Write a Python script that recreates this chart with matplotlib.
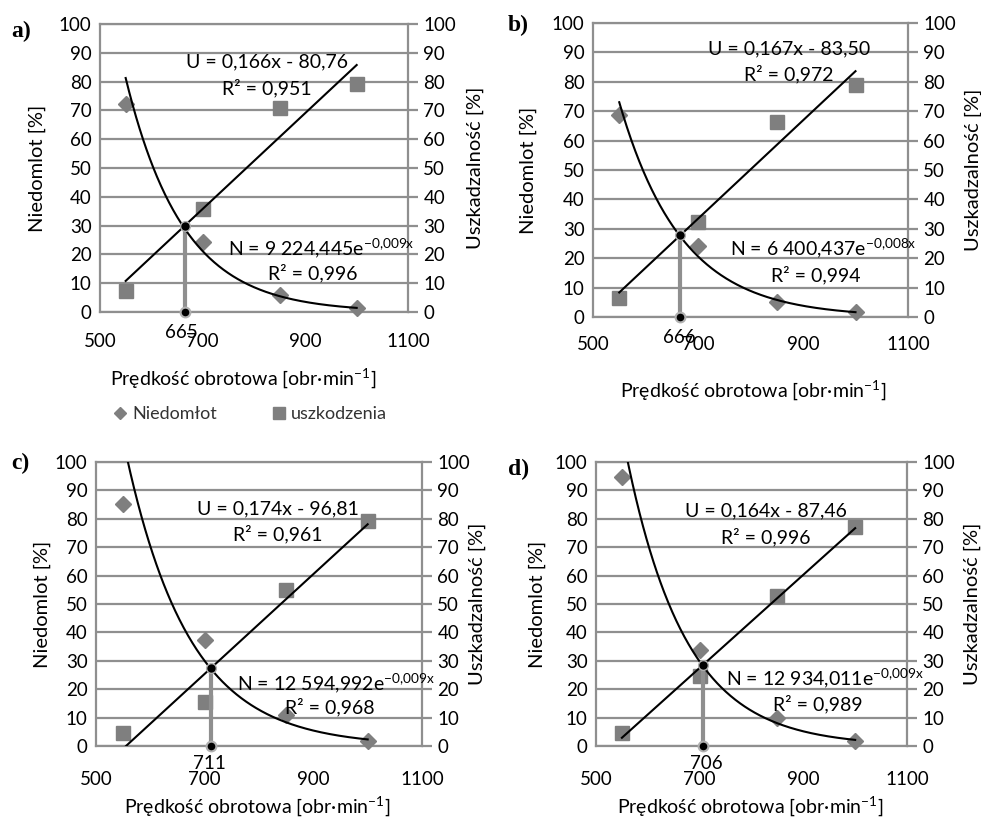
import numpy as np
import matplotlib
matplotlib.use('Agg')
import matplotlib.pyplot as plt
from matplotlib.lines import Line2D

plt.rcParams['font.family'] = ['Lato', 'DejaVu Sans']
plt.rcParams['mathtext.fontset'] = 'custom'
plt.rcParams['mathtext.rm'] = 'Lato'
plt.rcParams['mathtext.it'] = 'Lato:italic'
plt.rcParams['mathtext.bf'] = 'Lato:bold'
plt.rcParams['mathtext.default'] = 'regular'

# ---------------- data ----------------
speed = [550, 700, 850, 1000]
niedomlot_a = [72.1, 24.4, 5.9, 1.3]
uszk_a = [7.4, 35.8, 70.9, 79.0]
niedomlot_b = [68.6, 24.2, 5.1, 1.7]
uszk_b = [6.5, 32.3, 66.3, 78.8]
niedomlot_c = [85.1, 37.3, 10.9, 1.8]
uszk_c = [4.5, 15.6, 55.1, 79.1]
niedomlot_d = [94.6, 33.9, 9.8, 1.8]
uszk_d = [4.5, 24.7, 52.9, 77.1]
crossing = [665, 666, 711, 706]
panel_labels = ['a)', 'b)', 'c)', 'd)']
lin_eq = ['U = 0,166x - 80,76', 'U = 0,167x - 83,50', 'U = 0,174x - 96,81', 'U = 0,164x - 87,46']
lin_r2 = ['R² = 0,951', 'R² = 0,972', 'R² = 0,961', 'R² = 0,996']
exp_coef = ['9 224,445', '6 400,437', '12 594,992', '12 934,011']
exp_k = ['-0{,}009', '-0{,}008', '-0{,}009', '-0{,}009']
exp_r2 = ['R² = 0,996', 'R² = 0,994', 'R² = 0,968', 'R² = 0,989']
x_ticks = [500, 700, 900, 1100]
y_ticks = list(range(0, 101, 10))
xlabel = 'Prędkość obrotowa [obr·min$^{-1}$]'
ylabel_left = 'Niedomlot [%]'
ylabel_right = 'Uszkadzalność [%]'
legend_labels = ['Niedomłot', 'uszkodzenia']

N_series = [niedomlot_a, niedomlot_b, niedomlot_c, niedomlot_d]
U_series = [uszk_a, uszk_b, uszk_c, uszk_d]

# ---------------- layout (pixels) ----------------
W, H = 981, 817
GRID = '#8f8f8f'
MARK = '#7f7f7f'

def fx(x):
    return x / W

def fy(y):
    return 1 - y / H

# plot area boxes: left, right, top, bottom (pixels)
boxes = [(100, 408, 24, 312), (593, 908, 23, 317), (96, 422, 462, 746), (596, 907, 462, 746)]
# text positions in data coords: (lin eq x,y), (lin r2 x,y), (exp eq x,y), (exp r2 x,y)
text_pos = [
    [(825, 86.8), (825, 77.8), (749, 22.2), (915, 13.5)],
    [(874, 91.3), (873, 82.8), (761, 23.3), (925, 14.2)],
    [(835, 83.6), (835, 74.8), (760, 22.0), (930, 13.6)],
    [(828, 82.9), (827, 73.6), (750, 23.9), (928, 14.8)],
]
cross_dx = [-6, -1, -3, 7]
cross_y = [-7.2, -7.0, -6.1, -6.1]
x_pad = [15, 14, 18, 18]
ylab_left_x = [37, 528, 42, 537]
ylab_right_x = [475, 973, 477, 972]
xlab_pos = [(243, 378), (753, 390), (257, 806), (750, 806)]
panel_pos = [(21, 31), (518, 25), (20, 463), (519, 469)]

fig = plt.figure(figsize=(W / 100, H / 100), dpi=100)

for i in range(4):
    l, r, t, b = boxes[i]
    ax = fig.add_axes([fx(l), fy(b), (r - l) / W, (b - t) / H])
    ax.set_xlim(500, 1100)
    ax.set_ylim(0, 100)
    ax.set_xticks(x_ticks)
    ax.set_yticks(y_ticks)
    ax.grid(axis='y', color=GRID, lw=1.6, zorder=0)
    ax.set_axisbelow(True)
    for s in ax.spines.values():
        s.set_color(GRID)
        s.set_linewidth(1.6)
    ax.tick_params(axis='y', length=0, pad=6, labelsize=13.5)
    ax.tick_params(axis='x', length=0, pad=x_pad[i], labelsize=13.5)

    ax2 = ax.twinx()
    ax2.set_ylim(0, 100)
    ax2.set_yticks(y_ticks)
    ax2.tick_params(axis='y', length=7, width=1.6, color=GRID, pad=4, labelsize=13.5)
    for s in ax2.spines.values():
        s.set_visible(False)

    x = np.array(speed, dtype=float)
    n = np.array(N_series[i], dtype=float)
    u = np.array(U_series[i], dtype=float)

    ax.plot(x, n, ls='none', marker='D', ms=8.5, color=MARK, zorder=3, clip_on=False)
    ax.plot(x, u, ls='none', marker='s', ms=10, color=MARK, zorder=3, clip_on=False)

    xs = np.linspace(550, 1000, 400)
    lin = np.polyfit(x, u, 1)
    k, lnA = np.polyfit(x, np.log(n), 1)
    ax.plot(xs, np.polyval(lin, xs), color='black', lw=1.5, zorder=4)
    ax.plot(xs, np.exp(lnA + k * xs), color='black', lw=1.5, zorder=4)

    cx = crossing[i]
    cy = np.polyval(lin, cx)
    ax.plot([cx, cx], [0, cy], color=GRID, lw=3, zorder=3.5, solid_capstyle='butt')
    ax.plot([cx], [0], ls='none', marker='o', ms=7, mfc='black', mec='#b0b0b0', mew=1.5,
            zorder=6, clip_on=False)
    ax.plot([cx], [cy], ls='none', marker='o', ms=7, mfc='black', mec='#b0b0b0', mew=1.0,
            zorder=6, clip_on=False)
    ax.text(cx + cross_dx[i], cross_y[i], str(cx), ha='center', va='center', fontsize=13.5,
            clip_on=False, zorder=7)

    tp = text_pos[i]
    ax.text(tp[0][0], tp[0][1], lin_eq[i], ha='center', va='center', fontsize=14, zorder=5)
    ax.text(tp[1][0], tp[1][1], lin_r2[i], ha='center', va='center', fontsize=14, zorder=5)
    ax.text(tp[2][0], tp[2][1], 'N = ' + exp_coef[i] + 'e$^{' + exp_k[i] + 'x}$',
            ha='left', va='center', fontsize=14, zorder=5)
    ax.text(tp[3][0], tp[3][1], exp_r2[i], ha='center', va='center', fontsize=14, zorder=5)

    fig.text(fx(ylab_left_x[i]), fy((t + b) / 2), ylabel_left, rotation=90,
             ha='center', va='center', fontsize=14.5)
    fig.text(fx(ylab_right_x[i]), fy((t + b) / 2), ylabel_right, rotation=90,
             ha='center', va='center', fontsize=14.5)
    fig.text(fx(xlab_pos[i][0]), fy(xlab_pos[i][1]), xlabel, ha='center', va='center',
             fontsize=14)
    fig.text(fx(panel_pos[i][0]), fy(panel_pos[i][1]), panel_labels[i], ha='center',
             va='center', fontsize=17, fontweight='bold', family='Liberation Serif')

handles = [Line2D([], [], ls='none', marker='D', ms=6.5, color=MARK),
           Line2D([], [], ls='none', marker='s', ms=8, color=MARK)]
fig.legend(handles, legend_labels, loc='center', bbox_to_anchor=(fx(250), fy(414)), ncol=2,
           frameon=False, fontsize=13, handletextpad=0.3, columnspacing=3.0,
           handlelength=0.8, labelcolor='#333333')

fig.savefig('out.png', dpi=100)
